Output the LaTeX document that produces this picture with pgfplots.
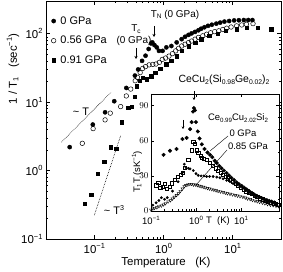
\documentclass[border=0pt]{standalone}
\usepackage{pgfplots}
\pgfplotsset{compat=1.18}
\usetikzlibrary{arrows.meta}
\usepackage{fontspec}
\setmainfont{Liberation Sans}
\newcommand{\sub}[1]{\raisebox{-0.25ex}{\scalebox{0.65}{#1}}}
\newcommand{\sups}[1]{\raisebox{0.8ex}{\scalebox{0.65}{#1}}}
\begin{document}
\begin{tikzpicture}[x=1bp,y=1bp]
\useasboundingbox (0,0) rectangle (283,272);
\begin{axis}[
  at={(46bp,33bp)}, anchor=south west,
  scale only axis, width=235bp, height=238bp,
  xmode=log, ymode=log,
  xmin=0.02, xmax=50, ymin=0.1, ymax=300,
  tick align=inside, xtick pos=both, ytick pos=both,
  xtick={0.1,1,10},
  xticklabels={10\sups{−1},10\sups{0},10\sups{1}},
  ytick={0.1,1,10,100},
  yticklabels={10\sups{−1},10\sups{0},10\sups{1},10\sups{2}},
  tick label style={font=\fontsize{11.5}{12}\selectfont},
  xticklabel style={yshift=-1bp},
  major tick length=4bp, minor tick length=2bp,
  axis line style={line width=0.7pt},
  every tick/.style={line width=0.5pt, black},
  legend style={at={(axis description cs:0.022,0.94)}, anchor=north west,
    draw=none, fill=none, font=\fontsize{11}{11}\selectfont, row sep=8.5bp,
    inner sep=0pt, nodes={inner sep=1bp},
    /tikz/every odd column/.append style={column sep=3.5bp}},
  legend cell align=left,
  legend image code/.code={\draw[mark repeat=2,mark phase=2] plot coordinates {(0bp,0bp)(4.5bp,0bp)(9bp,0bp)};},
]
\addplot[only marks, mark=*, mark size=2.1bp, black] coordinates {
(0.044,2.2)(0.095,4.7)(0.143,7.1)(0.194,10.3)(0.29,16.1)(0.386,24.4)(0.43,30)(0.49,40)(0.55,47.6)(0.61,59.7)
(0.66,72)(0.69,74.5)(0.74,68)(0.8,63)(0.86,56)(0.97,56)(1.1,63)(1.3,66)(1.55,74.5)(1.83,83)(2.05,90)(2.3,96)(2.55,101)(2.86,106)(3.2,112)(3.5,118)(3.9,124)(4.4,130)(5.0,135)(5.8,140)(6.6,145)(7.6,150)(8.9,153)(10.5,156)(12.3,157)(14.5,158)(16.8,158)(19.3,158)};
\addlegendentry{0 GPa}
\addplot[only marks, mark=o, mark size=2.3bp, black, mark options={line width=0.5pt}] coordinates {
(0.067,2.5)(0.096,4.1)(0.143,5.5)(0.17,6.9)(0.24,8.6)(0.29,12.3)(0.336,15.5)(0.39,20.5)(0.42,23)(0.46,27)(0.5,31)(0.55,33)(0.62,35)(0.7,35.5)(0.78,36)(0.87,38)(0.96,42)(1.07,44)(1.2,47)(1.35,51)(1.5,56)(1.65,61)(1.83,66)(2.05,70)(2.3,74)(2.55,78)(2.86,83)(3.2,88)(3.7,93)(4.2,98)(4.8,103)(5.5,107)(6.3,110)(7.2,115)(8.2,120)(9.5,125)(11.4,130)(13.5,134)(15.8,137)(19.7,140)};
\addlegendentry{0.56 GPa}
\addplot[only marks, mark=square*, mark size=1.7bp, black] coordinates {
(0.072,0.33)(0.09,0.44)(0.112,0.9)(0.139,1.36)(0.174,2.2)(0.208,2.1)(0.25,5.1)(0.31,8.3)(0.35,8.6)(0.38,12)(0.41,17)(0.45,20.5)(0.5,22.5)(0.57,21.5)(0.66,24)(0.76,27)(0.9,31)(1.1,36)(1.3,40)(1.55,47)(1.83,56)(2.3,66)(2.86,74)(3.5,83)(4.6,93)(6.1,100)(8,110)(11.4,116)(16,122)(23,122)(36,116)};
\addlegendentry{0.91 GPa}
\addplot[densely dotted, line width=0.6pt, forget plot] coordinates {(0.0335,2.6)(0.174,13.9)};
\addplot[densely dotted, line width=0.6pt, forget plot] coordinates {(0.1,0.223)(0.241,3.27)};
\end{axis}
% main axis labels
\node[font=\fontsize{11.5}{12}\selectfont] at (166,9) {Temperature~~~(K)};
\node[rotate=90, font=\fontsize{11.5}{12}\selectfont] at (13,203) {1 / T\sub{1}~~~(sec\sups{−1})};
% main annotations
\node[font=\fontsize{11}{11}\selectfont] at (81,160) {\textasciitilde\ T};
\node[font=\fontsize{11}{11}\selectfont] at (114,62) {\textasciitilde\ T\sups{3}};
\node[font=\fontsize{10}{10}\selectfont] at (136,243) {T\sub{c}};
\node[font=\fontsize{10}{10}\selectfont] at (134,231) {(0 GPa)};
\draw[-{Stealth[length=3bp,width=3bp]}, line width=0.5pt] (136,224) -- (136,213);
\node[font=\fontsize{10}{10}\selectfont] at (175,257) {T\sub{N} (0 GPa)};
\draw[-{Stealth[length=3bp,width=3bp]}, line width=0.5pt] (154,246) -- (154,235);
\node[font=\fontsize{10.5}{11}\selectfont] at (224,192) {CeCu\sub{2}(Si\sub{0.98}Ge\sub{0.02})\sub{2}};
% inset
\begin{axis}[
  at={(151bp,61bp)}, anchor=south west,
  scale only axis, width=128bp, height=117bp,
  xmode=log, xmin=0.1, xmax=70, ymin=0, ymax=100,
  axis background/.style={fill=white},
  tick align=inside, xtick pos=both, ytick pos=both,
  xtick={0.1,1,10},
  xticklabels={10\sups{−1},10\sups{0},10\sups{1}},
  ytick={0,30,60,90},
  minor y tick num=2,
  tick label style={font=\fontsize{9.5}{10}\selectfont},
  yticklabel style={xshift=1bp},
  xticklabel style={yshift=-1.5bp},
  major tick length=3bp, minor tick length=1.5bp,
  axis line style={line width=0.6pt},
  every tick/.style={line width=0.4pt, black},
]
\addplot[only marks, mark=*, mark size=1.8bp, black] coordinates {
(0.19,48)(0.265,51.5)(0.37,53)(0.5,61.5)(0.62,62.5)(0.74,70)(0.8,76)(0.86,85)(0.9,88)(0.95,86)(1.0,76)(1.1,68)(1.2,62)(1.35,57)(1.55,53)(1.8,50)(2.05,48)(2.3,46)(2.6,43)(2.9,41)(3.3,38.5)(3.7,36.5)(4.2,34.5)(4.8,32.5)(5.4,30.5)(6.1,28.5)(7,26.5)(8,24.5)(9,23)(10.3,21.5)(11.7,20)(13.4,18.5)(15.2,17)(17.4,15.5)(19.8,14)(22.5,13)(25.6,12)(29,11)(33,10)(37.5,9.3)(42.5,8.6)(48,8)(55,7.3)};
\addplot[only marks, mark=square, mark size=1.6bp, black, mark options={line width=0.4pt}] coordinates {
(0.13,22)(0.145,24)(0.16,19.7)(0.18,21)(0.2,23.5)(0.22,19)(0.26,21)(0.29,23.8)(0.34,26.5)(0.4,29)(0.45,31)(0.5,32.4)(0.57,37)(0.67,44)(0.8,52)(0.87,59)(0.95,57.6)(1.05,52)(1.12,49.5)(1.25,47)(1.34,45.4)(1.5,45)(1.72,44)(2.0,41)(2.4,38.7)(2.75,36.5)(3.1,34.5)(3.5,33)(4,31)(4.5,29.5)(5,28)(5.7,26.5)(6.5,25)(7.5,23)(8.6,21.5)(10,20)(11.5,18.5)(13,17)(15,15.5)(17,14.5)(20,13)(23,12)(26,11)(30,10)(35,9)(40,8.2)(46,7.4)(53,6.6)(60,6)(67,5.3)};
\addplot[only marks, mark=*, mark size=1.2bp, black] coordinates {
(0.11,5)(0.13,7)(0.15,9)(0.17,11.4)(0.2,10)(0.23,11.4)(0.3,17)(0.4,25)(0.5,33)(0.55,40)(0.6,37)(0.68,36.5)(0.74,36)(0.87,34.6)(1.0,32)(1.12,30.5)(1.3,30)(1.5,30)(1.72,29.5)(2.0,29.5)(2.4,29.5)(2.9,29)(3.4,28.4)(4.0,27.5)(4.8,26.2)(5.7,25)(6.7,23.5)(8,22)(9.5,20.8)(11,19.5)(13,17.5)(15.5,16)(18,14.5)(21,13)(25,11.5)(30,10.2)(35,9)(42,8)(50,7)(60,6)};
\addplot[only marks, mark=triangle, mark size=1.7bp, black, mark options={rotate=180, line width=0.4pt}] coordinates {
(0.1,1)(0.11,2)(0.12,2.5)(0.135,3)(0.15,4)(0.17,4.5)(0.19,5.5)(0.21,6.5)(0.24,8)(0.27,9)(0.3,10.5)(0.33,12)(0.37,13.5)(0.41,15)(0.45,17)(0.5,19)(0.55,21)(0.6,22)(0.66,22.5)(0.73,23)(0.8,23)(0.88,22.5)(0.97,22.5)(1.07,22)(1.18,21.5)(1.3,21)(1.45,20.5)(1.6,20)(1.8,19.5)(2,19)(2.25,18.5)(2.5,18)(2.8,17.5)(3.1,17)(3.5,16.5)(4,16)(4.5,15.5)(5,15)(5.7,14.5)(6.5,14)(7.4,13.5)(8.4,13)(9.5,12.5)(11,12)(12.5,11.3)(14,10.5)(16,10)(18,9.3)(20.5,8.7)(23,8.2)(26,7.6)(30,7)(34,6.4)(39,5.8)(45,5.2)(52,4.8)(60,4.3)(68,4)};
\end{axis}
% inset labels
\node[rotate=90, font=\fontsize{9.5}{10}\selectfont] at (137,100) {T\sub{1}T~(sK\sups{−1})};
\node[font=\fontsize{9.5}{10}\selectfont] at (218,51) {T~~(K)};
\node[font=\fontsize{9.5}{10}\selectfont] at (238,154) {Ce\sub{0.99}Cu\sub{2.02}Si\sub{2}};
\node[font=\fontsize{9.5}{10}\selectfont] at (243,139) {0 GPa};
\node[font=\fontsize{9.5}{10}\selectfont] at (248,126) {0.85 GPa};
\draw[line width=0.4pt] (228,136) -- (210,121);
\draw[line width=0.4pt] (227,122) -- (196,87);
\draw[-{Stealth[length=2.5bp,width=2.5bp]}, line width=0.4pt] (183,152) -- (183,143);
\draw[-{Stealth[length=2.5bp,width=2.5bp]}, line width=0.4pt] (194,181) -- (194,172);
\end{tikzpicture}
\end{document}
